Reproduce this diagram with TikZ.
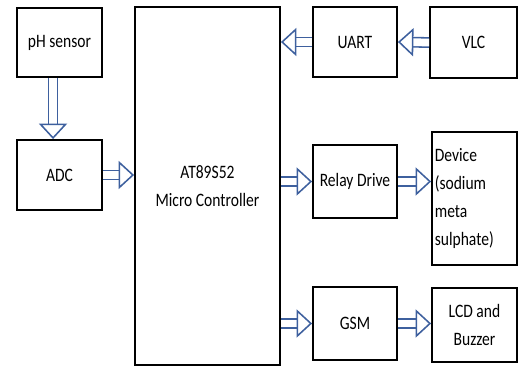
\documentclass[tikz,border=0pt]{standalone}
\usepackage{fontspec}
\setmainfont{Carlito}[FakeStretch=0.82]
\usepackage{xcolor}
\usepackage{tikz}
\usetikzlibrary{arrows.meta, positioning, calc}
\definecolor{arrowblue}{RGB}{62,96,158}

\begin{document}
\begin{tikzpicture}[x=0.025cm, y=-0.025cm,
    every node/.style={font=\fontsize{13.5}{20}\selectfont},
    blk/.style={draw, line width=1.3pt, inner sep=2pt, align=center},
    flow/.style={draw=arrowblue, double=white, line width=1.1pt, double distance=5.5pt,
        -{Triangle[open, fill=white, length=11pt, width=20pt, line width=1.1pt]}}]
    \useasboundingbox (0,0) rectangle (518,367);
    % input side
    \node[blk, minimum width=2.125cm, minimum height=1.725cm] (ph) at (59.5,42.5) {pH sensor};
    \node[blk, minimum width=2.125cm, minimum height=1.75cm] (adc) at (59.5,175) {ADC};
    \node[blk, minimum width=3.625cm, minimum height=8.95cm] (mcu) at (207.5,186) {AT89S52\\Micro Controller};
    % right column
    \node[blk, minimum width=2.1cm, minimum height=1.75cm] (uart) at (355,42) {UART};
    \node[blk, minimum width=2.175cm, minimum height=1.775cm] (vlc) at (473.5,42.5) {VLC};
    \node[blk, minimum width=2.1cm, minimum height=1.825cm] (relay) at (355,181.5) {Relay Drive};
    \node[blk, text width=1.984cm, align=left, minimum height=3.325cm] (dev) at (474.5,198.5) {Device\\(sodium\\meta\\sulphate)};
    \node[blk, minimum width=2.1cm, minimum height=1.825cm] (gsm) at (355,323.5) {GSM};
    \node[blk, minimum width=2.125cm, minimum height=1.85cm] (lcd) at (474.5,325) {LCD and\\Buzzer};
    % arrows
    \draw[flow] ([xshift=-4.6pt]ph.south) -- ([xshift=-4.6pt]adc.north);
    \draw[flow] (adc.east) -- (adc.east -| mcu.west);
    \draw[flow] (uart.west) -- (uart.west -| mcu.east);
    \draw[flow] (vlc.west) -- (uart.east);
    \draw[flow] (relay.west -| mcu.east) -- (relay.west);
    \draw[flow] (relay.east) -- (relay.east -| dev.west);
    \draw[flow] (gsm.west -| mcu.east) -- (gsm.west);
    \draw[flow] (gsm.east) -- (gsm.east -| lcd.west);
\end{tikzpicture}
\end{document}
